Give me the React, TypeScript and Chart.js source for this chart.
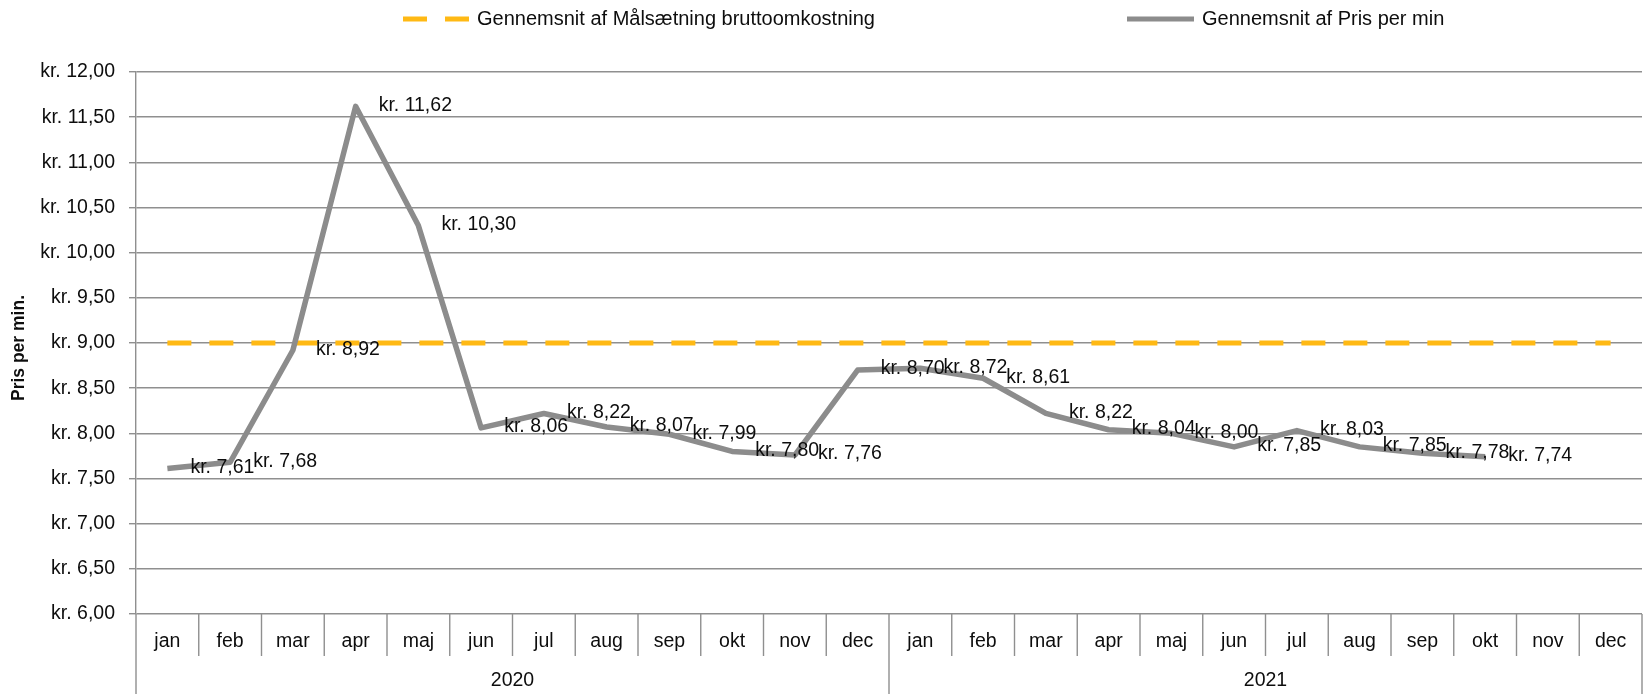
import React, { useEffect, useRef } from 'react';
import { Chart, registerables } from 'chart.js';
Chart.register(...registerables);

const years = ['2020', '2021'];
const months = ['jan', 'feb', 'mar', 'apr', 'maj', 'jun', 'jul', 'aug', 'sep', 'okt', 'nov', 'dec'];
const categories = years.flatMap((y) => months.map((m) => m));

const prisPerMin: (number | null)[] = [
  7.61, 7.68, 8.92, 11.62, 10.3, 8.06, 8.22, 8.07, 7.99, 7.8, 7.76, 8.7,
  8.72, 8.61, 8.22, 8.04, 8.0, 7.85, 8.03, 7.85, 7.78, 7.74, null, null,
];
const maalsaetning: number[] = [
  9.0, 9.0, 9.0, 9.0, 9.0, 9.0, 9.0, 9.0, 9.0, 9.0, 9.0, 9.0,
  9.0, 9.0, 9.0, 9.0, 9.0, 9.0, 9.0, 9.0, 9.0, 9.0, 9.0, 9.0,
];
const yMin = 6;
const yMax = 12;
const yStep = 0.5;

const seriesNames = ['Gennemsnit af Målsætning bruttoomkostning', 'Gennemsnit af Pris per min'];
const yTitle = 'Pris per min.';

const FONT = "'Liberation Sans', Arial, sans-serif";
const GRID = '#8f8f8f';
const ORANGE = '#FFB914';
const GRAY = '#8c8c8c';
const TEXT = '#0d0d0d';

const fmt = (v: number) => 'kr. ' + v.toFixed(2).replace('.', ',');

const customPlugin = {
  id: 'customDraw',
  afterDraw(chart: any) {
    const { ctx, chartArea, scales } = chart;
    const x = scales.x;
    const n = categories.length;
    const half = (x.getPixelForValue(1) - x.getPixelForValue(0)) / 2;
    const bottom = chart.height;
    ctx.save();
    // x axis boxes
    ctx.strokeStyle = GRID;
    ctx.lineWidth = 1.4;
    for (let i = 0; i <= n; i++) {
      const px = i < n ? x.getPixelForValue(i) - half : x.getPixelForValue(n - 1) + half;
      const isYear = i % months.length === 0;
      ctx.beginPath();
      ctx.moveTo(px, chartArea.bottom);
      ctx.lineTo(px, isYear ? bottom : chartArea.bottom + 42);
      ctx.stroke();
    }
    ctx.fillStyle = TEXT;
    ctx.font = `19.5px ${FONT}`;
    ctx.textAlign = 'center';
    ctx.textBaseline = 'middle';
    for (let i = 0; i < n; i++) {
      ctx.fillText(categories[i], x.getPixelForValue(i), chartArea.bottom + 28);
    }
    years.forEach((yr, k) => {
      const a = x.getPixelForValue(k * months.length) - half;
      const b = x.getPixelForValue(k * months.length + months.length - 1) + half;
      ctx.fillText(yr, (a + b) / 2, chartArea.bottom + 67);
    });

    // data labels for pris
    const meta = chart.getDatasetMeta(1);
    ctx.textAlign = 'left';
    ctx.textBaseline = 'middle';
    meta.data.forEach((pt: any, i: number) => {
      const v = prisPerMin[i];
      if (v == null) return;
      ctx.fillText(fmt(v), pt.x + 23, pt.y - 1);
    });

    // y title
    ctx.save();
    ctx.translate(19, (chartArea.top + chartArea.bottom) / 2 + 5);
    ctx.rotate(-Math.PI / 2);
    ctx.font = `bold 17.5px ${FONT}`;
    ctx.textAlign = 'center';
    ctx.fillText(yTitle, 0, 0);
    ctx.restore();

    // legend
    const ly = 19;
    ctx.lineWidth = 5;
    ctx.lineCap = 'butt';
    ctx.strokeStyle = ORANGE;
    ctx.setLineDash([24, 18]);
    ctx.beginPath();
    ctx.moveTo(403, ly);
    ctx.lineTo(469, ly);
    ctx.stroke();
    ctx.setLineDash([]);
    ctx.strokeStyle = GRAY;
    ctx.beginPath();
    ctx.moveTo(1127, ly);
    ctx.lineTo(1194, ly);
    ctx.stroke();
    ctx.font = `20px ${FONT}`;
    ctx.textAlign = 'left';
    ctx.fillText(seriesNames[0], 477, ly);
    ctx.fillText(seriesNames[1], 1202, ly);
    ctx.restore();
  },
};

export default function App() {
  const ref = useRef<HTMLCanvasElement>(null);
  useEffect(() => {
    if (!ref.current) return;
    const chart = new Chart(ref.current, {
      type: 'line',
      data: {
        labels: categories,
        datasets: [
          {
            label: seriesNames[0],
            data: maalsaetning,
            borderColor: ORANGE,
            borderWidth: 5,
            borderDash: [24, 18],
            borderCapStyle: 'butt',
            pointRadius: 0,
            fill: false,
            order: 1,
          },
          {
            label: seriesNames[1],
            data: prisPerMin,
            borderColor: GRAY,
            borderWidth: 5.5,
            borderJoinStyle: 'round',
            borderCapStyle: 'butt',
            pointRadius: 0,
            fill: false,
            spanGaps: false,
            order: 0,
          },
        ],
      },
      options: {
        responsive: false,
        animation: false,
        devicePixelRatio: 1,
        layout: { padding: { top: 72, right: 2, left: 0, bottom: 0 } },
        plugins: { legend: { display: false }, tooltip: { enabled: false }, title: { display: false } },
        scales: {
          x: {
            type: 'category',
            offset: true,
            grid: { display: false },
            border: { display: false },
            ticks: { display: false },
            afterFit: (s: any) => {
              s.height = 80;
            },
          },
          y: {
            min: yMin,
            max: yMax,
            ticks: {
              stepSize: yStep,
              padding: 14,
              color: TEXT,
              font: { family: FONT, size: 19.5 },
              callback: (v: any) => fmt(Number(v)),
            },
            grid: { color: GRID, lineWidth: 1.4, tickLength: 7, drawTicks: true },
            border: { display: true, color: GRID, width: 1.4 },
            afterFit: (s: any) => {
              s.width = 136;
            },
          },
        },
      },
      plugins: [customPlugin],
    });
    return () => chart.destroy();
  }, []);
  return (
    <div style={{ position: 'fixed', left: 0, top: 0, width: 1644, height: 694, background: '#fff' }}>
      <canvas ref={ref} width={1644} height={694} style={{ display: 'block', width: 1644, height: 694 }} />
    </div>
  );
}
